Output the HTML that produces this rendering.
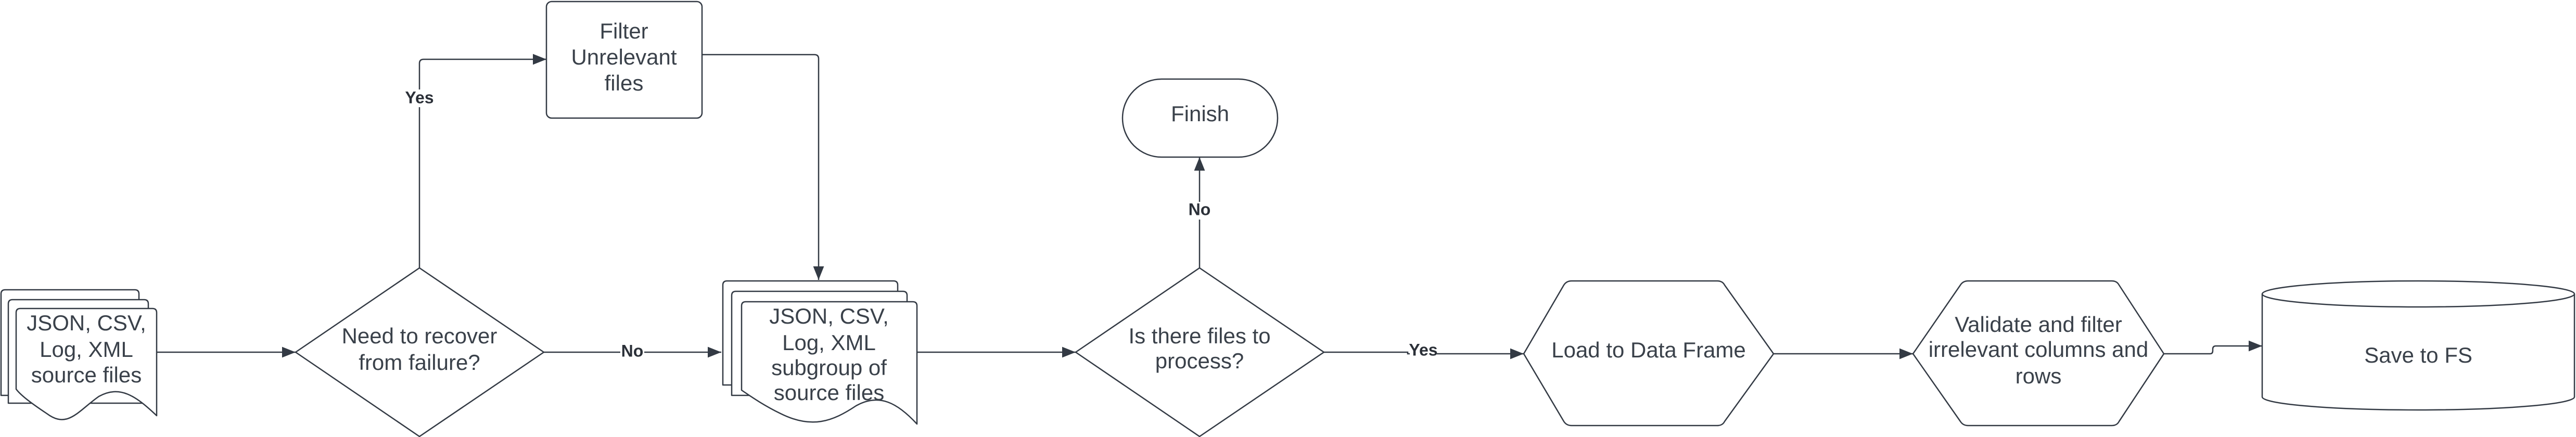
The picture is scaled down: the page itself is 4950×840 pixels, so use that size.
<!DOCTYPE html>
<html><head><meta charset="utf-8"><style>
html,body{margin:0;padding:0;background:#fff;}
svg{display:block;}
text{font-family:"Liberation Sans",sans-serif;fill:#3a414a;font-size:42px;text-anchor:middle;dominant-baseline:middle;}
.b{font-weight:bold;font-size:32px;fill:#2b3038;}
</style></head><body>
<svg width="4950" height="840" viewBox="0 0 4950 840" xmlns="http://www.w3.org/2000/svg">
<defs>
<marker id="A" viewBox="0 0 10 10" refX="10" refY="5" markerWidth="26" markerHeight="26" orient="auto" markerUnits="userSpaceOnUse"><path d="M0,1 L10,5 L0,9z" fill="#333a44"/></marker></defs>
<g fill="#fff" stroke="#333a44" stroke-width="2.5" stroke-linejoin="round">
<path d="M2,565 q0,-8 8,-8 H259 q8,0 8,8 V760 H2z"/>
<path d="M16,584 q0,-8 8,-8 H277 q8,0 8,8 V775 H16z"/>
<path d="M31,601 q0,-8 8,-8 H293 q8,0 8,8 V799 C260,760 230,740 190,762 C150,790 130,825 90,795 C60,775 40,760 31,748z"/>
<rect x="1050" y="3" width="299" height="224" rx="10"/>
<path d="M806,515 L1045,677 L806,839 L568,677z"/>
<path d="M1389,548 q0,-8 8,-8 H1717 q8,0 8,8 V740 H1389z"/>
<path d="M1406,568 q0,-8 8,-8 H1735 q8,0 8,8 V760 H1406z"/>
<path d="M1425,588 q0,-8 8,-8 H1754 q8,0 8,8 V815 C1725,775 1690,755 1645,780 C1600,810 1560,825 1500,795 C1465,778 1440,760 1425,750z"/>
<path d="M2305,515 L2544,677 L2305,839 L2067,677z"/>
<rect x="2157" y="152" width="298" height="150" rx="75"/>
<path d="M2928,680 L3005,548 Q3010,540 3020,540 H3300 Q3310,540 3314,548 L3408,680 L3314,810 Q3310,818 3300,818 H3020 Q3010,818 3005,810z"/>
<path d="M3676,680 L3767,548 Q3772,540 3782,540 H4058 Q4068,540 4072,548 L4158,680 L4072,810 Q4068,818 4058,818 H3782 Q3772,818 3767,810z"/>
<path d="M4347,565 V763 A300,25 0 0 0 4947,763 V565"/>
<ellipse cx="4647" cy="565" rx="300" ry="25"/>
</g>
<g fill="none" stroke="#333a44" stroke-width="2.5">
<path d="M301,677 H568" marker-end="url(#A)"/>
<path d="M806,515 V122 q0,-8 8,-8 H1050" marker-end="url(#A)"/>
<path d="M1349,105 H1565 q8,0 8,8 V538" marker-end="url(#A)"/>
<path d="M1045,677 H1386" marker-end="url(#A)"/>
<path d="M1762,677 H2067" marker-end="url(#A)"/>
<path d="M2305,515 V302" marker-end="url(#A)"/>
<path d="M2544,677 H2705 V680 H2928" marker-end="url(#A)"/>
<path d="M3408,680 H3676" marker-end="url(#A)"/>
<path d="M4158,680 H4247 q5,0 5,-6 v-3 q0,-6 6,-6 H4347" marker-end="url(#A)"/>
</g>
<g>
<rect x="780" y="172" width="52" height="34" fill="#fff"/><text class="b" x="806" y="190">Yes</text>
<rect x="1192" y="660" width="46" height="34" fill="#fff"/><text class="b" x="1215" y="677">No</text>
<rect x="2282" y="388" width="46" height="34" fill="#fff"/><text class="b" x="2305" y="405">No</text>
<rect x="2709" y="660" width="52" height="34" fill="#fff"/><text class="b" x="2735" y="675">Yes</text>
</g>
<text x="1199" y="63">Filter</text><text x="1199" y="113">Unrelevant</text><text x="1199" y="163">files</text>
<text x="166" y="624">JSON, CSV,</text><text x="166" y="675">Log, XML</text><text x="166" y="724">source files</text>
<text x="806" y="649">Need to recover</text><text x="806" y="700">from failure?</text>
<text x="1593" y="611">JSON, CSV,</text><text x="1593" y="662">Log, XML</text><text x="1593" y="710">subgroup of</text><text x="1593" y="758">source files</text>
<text x="2305" y="649">Is there files to</text><text x="2305" y="697">process?</text>
<text x="2306" y="222">Finish</text>
<text x="3168" y="676">Load to Data Frame</text>
<text x="3917" y="627">Validate and filter</text><text x="3917" y="675">irrelevant columns and</text><text x="3917" y="726">rows</text>
<text x="4647" y="686">Save to FS</text>
</svg>
</body></html>
